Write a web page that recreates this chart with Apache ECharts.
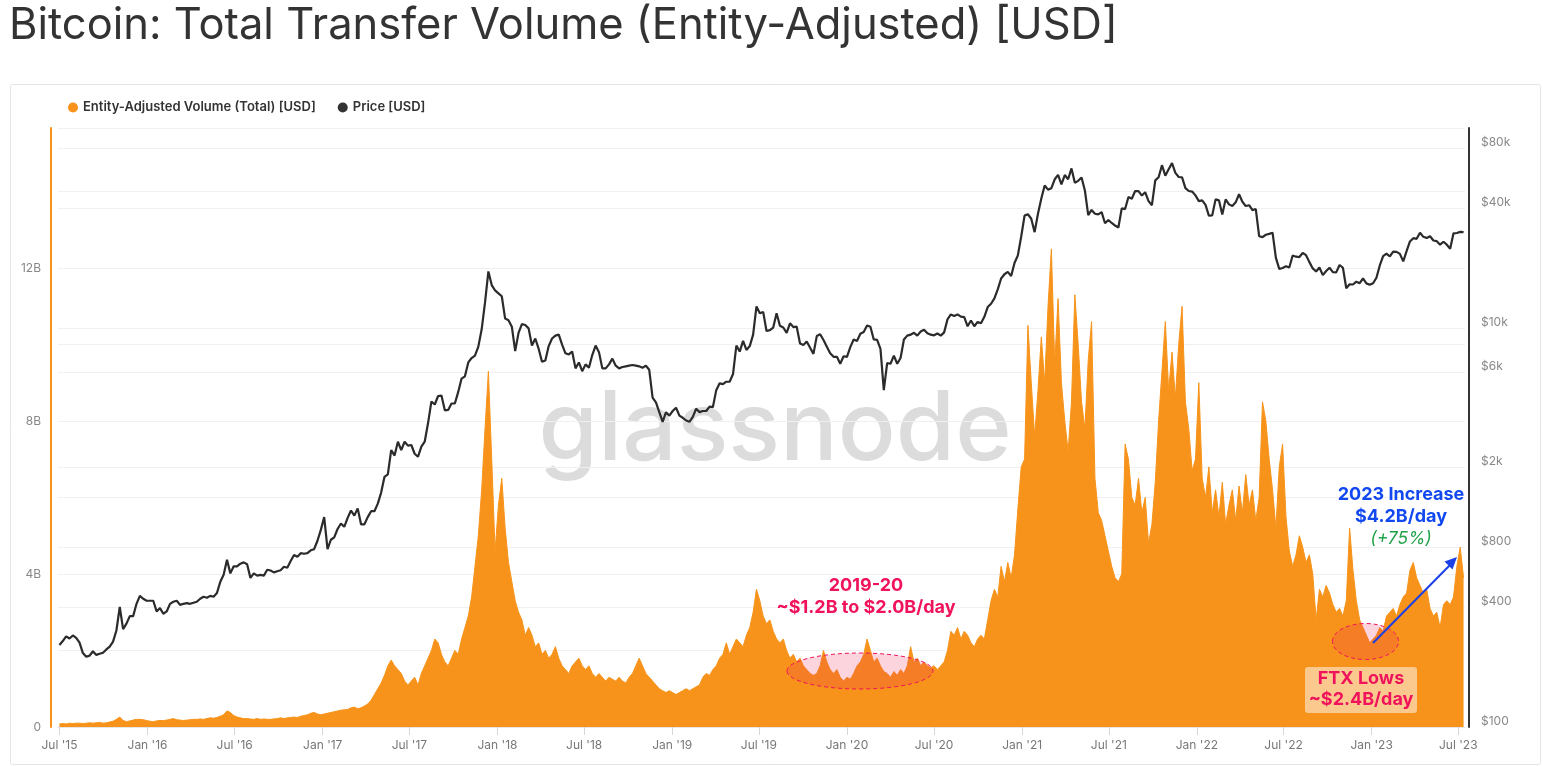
<!DOCTYPE html>
<html><head><meta charset="utf-8">
<script src="https://cdn.jsdelivr.net/npm/echarts/dist/echarts.min.js"></script>
<style>html,body{margin:0;padding:0;background:#fff}#chart{width:1543px;height:766px}</style>
</head><body><div id="chart"></div>
<script>
// ---- data (weekly samples) ----
const startDate = '2015-07-01';
const stepDays = 7;
const seriesNames = ['Entity-Adjusted Volume (Total) [USD]', 'Price [USD]'];
// Entity-adjusted transfer volume, billions USD
const volumeB = [
0.08,0.09,0.08,0.1,0.09,0.1,0.1,0.09,0.1,0.11,
0.1,0.11,0.12,0.1,0.11,0.13,0.15,0.2,0.26,0.17,
0.14,0.16,0.18,0.2,0.2,0.19,0.17,
0.15,0.14,0.16,0.17,0.17,0.18,0.2,0.22,0.19,0.18,0.17,0.18,0.19,0.2,
0.2,0.21,0.2,0.22,0.24,0.23,0.25,0.28,0.32,0.42,0.38,0.3,
0.26,0.24,0.22,0.22,0.21,0.2,0.22,0.2,0.21,0.2,0.2,0.21,0.22,0.24,0.22,0.24,0.25,0.26,0.25,0.28,0.3,0.32,0.36,
0.38,0.34,0.32,0.34,0.36,0.38,0.4,0.42,0.44,0.45,0.46,0.5,0.52,0.48,0.5,
0.55,0.6,0.7,0.85,1.0,1.15,1.35,1.6,1.75,1.6,1.5,
1.4,1.2,1.1,1.2,1.3,1.1,1.4,1.6,1.8,2.0,2.3,2.2,1.9,1.7,1.6,1.8,2.0,1.9,2.3,2.6,2.9,3.4,4.2,5.0,6.2,7.8,9.3,7.0,4.6,
5.8,6.5,5.2,4.3,3.8,3.3,3.0,2.8,2.4,2.6,2.4,2.1,2.2,1.9,2.0,1.8,1.9,2.1,1.8,1.6,1.5,1.4,1.6,1.7,1.8,1.6,1.5,1.6,1.4,1.3,1.4,1.3,1.2,1.3,1.25,1.2,1.3,1.2,1.15,1.3,1.4,1.6,1.8,1.6,1.4,1.3,1.2,1.1,1.0,0.95,0.9,0.95,
0.9,0.85,0.9,0.95,1.0,0.95,1.0,1.05,1.1,1.3,1.4,1.35,1.5,1.6,1.8,1.9,2.2,1.9,2.1,2.3,2.2,2.1,2.4,2.6,3.0,3.6,3.3,
2.9,2.7,2.8,2.5,2.3,2.2,2.3,2.0,1.8,1.9,1.7,1.8,1.6,1.5,1.4,1.35,1.4,1.6,2.0,1.7,1.5,1.4,1.5,1.3,1.2,1.3,1.25,1.4,1.6,1.7,1.9,2.3,2.0,1.7,1.8,1.6,1.45,1.4,1.3,1.45,1.35,1.5,1.4,1.6,2.1,1.7,1.8,1.6,1.7,1.6,1.55,1.6,1.5,1.6,1.7,2.0,2.5,2.4,2.6,2.3,2.5,2.4,2.2,2.1,2.3,2.4,2.3,2.8,3.3,3.6,3.4,4.2,3.8,4.3,3.9,4.5,
5.7,6.8,7.0,10.5,9.0,7.6,8.8,10.2,9.0,11.0,12.5,9.5,11.2,9.0,8.0,7.2,8.5,11.3,10.0,8.5,7.8,9.6,10.6,6.5,5.6,5.4,5.0,4.6,4.2,3.9,3.8,4.0,7.4,7.0,6.0,5.8,6.5,5.6,6.0,4.8,5.3,6.4,8.0,9.3,10.6,8.8,9.8,8.6,10.0,11.0,8.5,7.8,6.7,7.0,
9.0,6.5,6.0,6.8,5.6,6.2,5.5,6.4,5.3,5.8,6.2,5.4,6.3,5.6,6.6,5.8,6.2,5.4,6.0,8.5,8.0,7.0,6.2,5.2,6.8,7.4,5.5,4.6,4.2,4.5,5.0,4.7,4.3,4.5,4.0,2.8,3.6,3.4,3.7,3.5,3.2,3.0,3.1,2.9,3.3,5.2,4.1,3.3,2.8,2.6,2.4,2.2,2.3,2.4,2.6,2.5,2.9,3.0,3.1,2.9,3.2,3.4,3.5,4.1,4.3,3.9,3.7,3.5,3.6,3.1,2.9,3.0,2.6,3.2,3.3,3.2,3.4,4.2,4.7,3.9
];
// BTC price, USD
const priceUSD = [
258,270,285,278,288,280,265,235,225,228,240,230,233,236,245,253,268,305,400,310,330,360,360,415,455,440,430,
430,430,380,395,370,380,415,425,430,410,415,418,415,420,425,440,450,445,455,450,470,535,580,690,590,640,640,660,670,655,560,590,575,580,575,615,610,597,605,612,637,630,680,730,715,745,740,745,770,780,860,975,
1130,780,870,895,985,1050,1010,1120,1220,1150,1250,1040,1040,1130,1210,1210,1320,1500,1800,1850,2450,2300,2700,2450,2700,2580,2600,2350,2270,2550,2700,3350,4300,4150,4580,4600,3880,3900,4200,4200,4800,5600,5750,6750,7100,7300,8100,9900,13500,19300,16500,15500,
15000,14500,11200,11000,10200,7700,9500,10500,10400,10000,8200,8900,7900,6800,6900,8150,8900,9200,9300,8300,7500,7400,7650,6300,6750,6100,6600,6350,7350,8200,7600,6300,6300,6600,7050,6500,6300,6400,6450,6500,6550,6500,6450,6350,6500,6200,4500,4250,3800,3400,3800,3650,
3850,4000,3650,3560,3450,3400,3600,3950,3800,3850,3850,4050,4030,4900,5300,5250,5400,5400,5900,8200,7650,8650,7800,8150,9300,12900,11900,12100,9700,9800,10100,11900,10300,10100,9500,10600,10150,10200,8400,8250,8600,8000,7450,9150,9350,8750,8100,7500,7200,7200,6650,7250,
7200,8050,8800,8650,9400,9600,10350,10200,8800,8750,7900,4900,6700,6650,7300,6650,7100,8800,9200,9300,9500,9200,9650,9850,9450,9300,9230,9430,9200,9550,11100,11750,11550,11750,11450,11400,10250,10950,10250,10780,10600,11430,12800,13300,14150,15700,17800,18700,19200,18300,21300,23250,28900,
36800,37400,35500,30400,37600,44800,52100,49700,50500,56000,58900,52800,58800,56000,63500,53800,55000,57200,49200,37000,39300,37600,37300,38300,33700,35000,33800,32800,32100,40000,39700,45600,44700,48900,48800,46400,48200,43500,41500,55300,57300,65900,58400,62900,67500,60300,57500,57200,50600,48900,48600,46500,
43500,43900,41700,36800,36900,44400,43900,37300,44400,41900,41100,42900,47100,43200,41100,41500,39200,39700,29000,28700,29500,29800,30200,22600,19900,20100,20500,20200,23200,22900,22800,23900,23300,21500,20000,19300,20200,18500,19400,20150,19150,19100,20800,20150,15900,16650,16600,17150,16850,17800,16820,16550,
16850,17950,20700,23050,23700,22950,24300,24200,23650,21700,24400,27300,28350,28150,30200,28800,28400,29000,27600,27400,26300,27200,26300,25100,30000,30100,30500,30400
];
const xTickDates = ['2015-07-01','2016-01-01','2016-07-01','2017-01-01','2017-07-01','2018-01-01','2018-07-01','2019-01-01','2019-07-01','2020-01-01','2020-07-01','2021-01-01','2021-07-01','2022-01-01','2022-07-01','2023-01-01','2023-07-01'];
const volumeTickStepB = 4;
const priceTicks = [100,400,800,2000,6000,10000,40000,80000];
const xRange = ['2015-06-28','2023-07-15'];
const volMaxB = 15.66;
const priceRange = [100, 101270];

// ---- build ----
const DAY = 86400000;
const t0 = Date.parse(startDate);
const volData = volumeB.map((v,i)=>[t0 + i*stepDays*DAY, v*1e9]);
const priceData = priceUSD.map((p,i)=>[t0 + i*stepDays*DAY, p]);
const xTickVals = xTickDates.map(d=>Date.parse(d));
const MONTHS = ['Jan','Feb','Mar','Apr','May','Jun','Jul','Aug','Sep','Oct','Nov','Dec'];

const chart = echarts.init(document.getElementById('chart'), null, {renderer:'canvas'});
const FONT = 'Inter, "Noto Sans", sans-serif';
const RED = '#f0125a';
const BLUE = '#1248f0';
const option = {
  animation:false,
  textStyle:{fontFamily:FONT},
  legend:{
    left:63, top:96, icon:'circle', itemWidth:10, itemHeight:10, itemGap:22,
    textStyle:{fontSize:13, fontWeight:600, color:'#333', fontFamily:FONT},
    data:seriesNames
  },
  grid:{left:58, right:78, top:128, bottom:39, containLabel:false},
  xAxis:{
    type:'value', min:Date.parse(xRange[0]), max:Date.parse(xRange[1]),
    axisLine:{show:true, onZero:false, lineStyle:{color:'#e6e6e6'}},
    axisTick:{show:true, customValues:xTickVals, length:8, lineStyle:{color:'#d6d6d6'}},
    axisLabel:{customValues:xTickVals, color:'#777', fontSize:12, margin:12, fontFamily:FONT,
      formatter:v=>{const d=new Date(v); return MONTHS[d.getUTCMonth()]+" '"+String(d.getUTCFullYear()).slice(2);}},
    splitLine:{show:false}
  },
  yAxis:[{
    type:'value', min:0, max:volMaxB*1e9, interval:2e9, position:'left', offset:7,
    axisLine:{show:true, lineStyle:{color:'#f7931a', width:2}},
    axisTick:{show:false},
    axisLabel:{color:'#888', fontSize:12, margin:10, fontFamily:FONT, showMaxLabel:false,
      formatter:v=>{ if(v===0) return '0'; const b=v/1e9; const r=Math.round(b); return (Math.abs(b-r)<1e-6 && r%volumeTickStepB===0) ? r+'B' : ''; }},
    splitLine:{show:true, lineStyle:{color:'#f0f0f0'}}
  },{
    type:'log', logBase:10, min:priceRange[0], max:priceRange[1], position:'right', offset:4,
    axisLine:{show:true, lineStyle:{color:'#333', width:2}},
    axisTick:{show:false, customValues:priceTicks},
    axisLabel:{customValues:priceTicks, color:'#888', fontSize:12, margin:12, fontFamily:FONT, verticalAlign:'bottom',
      formatter:v=> v>=1000 ? '$'+Math.round(v/1000)+'k' : '$'+v},
    splitLine:{show:true, lineStyle:{color:'#f0f0f0'}}
  }],
  series:[{
    name:seriesNames[0], type:'line', yAxisIndex:0, data:volData, color:'#f7931a',
    symbol:'none', showSymbol:false, z:2,
    lineStyle:{width:1, color:'#f7931a'}, areaStyle:{color:'#f7931a', opacity:1}
  },{
    name:seriesNames[1], type:'line', yAxisIndex:1, data:priceData, color:'#333',
    symbol:'none', showSymbol:false, z:3,
    lineStyle:{width:2.2, color:'#2b2b2b'}
  }],
  graphic:[
    {type:'rect', z:-10, silent:true, shape:{x:10.5,y:84.5,width:1530,height:680,r:2}, style:{fill:'none', stroke:'#e4e4e4', lineWidth:1}},
    {type:'text', z:10, x:9, y:26, style:{text:'Bitcoin: Total Transfer Volume (Entity-Adjusted) [USD]', fontSize:43.5, fontFamily:FONT, fontWeight:400, fill:'#333', verticalAlign:'middle'}},
    {type:'text', z:-5, x:775, y:431, style:{text:'glassnode', fontSize:96, fontFamily:FONT, fontWeight:500, fill:'#dcdcdc', align:'center', verticalAlign:'middle'}},
    {type:'ellipse', z:100, shape:{cx:860, cy:671, rx:73, ry:18}, style:{fill:'rgba(240,40,90,0.2)', stroke:RED, lineWidth:1, lineDash:[4,3]}},
    {type:'ellipse', z:100, shape:{cx:1365.5, cy:641.5, rx:33, ry:18}, style:{fill:'rgba(240,40,90,0.2)', stroke:RED, lineWidth:1, lineDash:[4,3]}},
    {type:'text', z:101, x:866, y:586, style:{text:'2019-20', fontSize:18, fontWeight:700, fontFamily:FONT, fill:RED, align:'center', verticalAlign:'middle'}},
    {type:'text', z:101, x:866, y:608, style:{text:'~$1.2B to $2.0B/day', fontSize:18, fontWeight:700, fontFamily:FONT, fill:RED, align:'center', verticalAlign:'middle'}},
    {type:'rect', z:100, shape:{x:1305,y:667,width:112,height:46,r:3}, style:{fill:'rgba(255,255,255,0.5)'}},
    {type:'text', z:101, x:1361, y:679, style:{text:'FTX Lows', fontSize:18, fontWeight:700, fontFamily:FONT, fill:RED, align:'center', verticalAlign:'middle'}},
    {type:'text', z:101, x:1361, y:700, style:{text:'~$2.4B/day', fontSize:18, fontWeight:700, fontFamily:FONT, fill:RED, align:'center', verticalAlign:'middle'}},
    {type:'text', z:101, x:1401, y:495, style:{text:'2023 Increase', fontSize:18, fontWeight:700, fontFamily:FONT, fill:BLUE, align:'center', verticalAlign:'middle'}},
    {type:'text', z:101, x:1401, y:517, style:{text:'$4.2B/day', fontSize:18, fontWeight:700, fontFamily:FONT, fill:BLUE, align:'center', verticalAlign:'middle'}},
    {type:'text', z:101, x:1401, y:539, style:{text:'(+75%)', fontSize:17.5, fontStyle:'italic', fontWeight:400, fontFamily:FONT, fill:'#22a34a', align:'center', verticalAlign:'middle'}},
    {type:'line', z:101, shape:{x1:1373,y1:643,x2:1450,y2:565}, style:{stroke:'#1a40e6', lineWidth:2}},
    {type:'polygon', z:101, shape:{points:[[1457,557],[1452.5,569.5],[1444.5,561.5]]}, style:{fill:'#1a40e6'}}
  ]
};
chart.setOption(option);
</script>
</body></html>
